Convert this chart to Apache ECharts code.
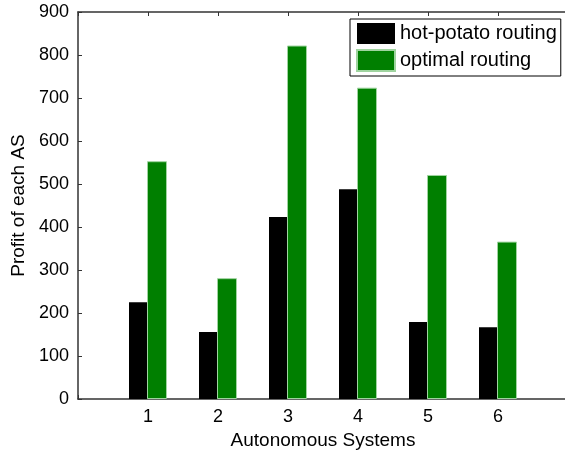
<!DOCTYPE html>
<html><head><meta charset="utf-8">
<script src="https://cdn.jsdelivr.net/npm/echarts@6/dist/echarts.min.js"></script>
<style>html,body{margin:0;padding:0;background:#fff}#c{width:565px;height:453px}</style>
</head><body><div id="c"></div>
<script>
const categories = [1, 2, 3, 4, 5, 6];
const hotPotato = [225, 156, 423, 488, 179, 167];
const optimal = [553, 281, 822, 724, 521, 366];
const yTicks = [0, 100, 200, 300, 400, 500, 600, 700, 800, 900];

const font = 'Liberation Sans, Arial, sans-serif';
const axisColor = '#333';
const chart = echarts.init(document.getElementById('c'));
chart.setOption({
  animation: false,
  backgroundColor: '#fff',
  textStyle: { fontFamily: font },
  grid: { left: 78, width: 490, top: 12, height: 387, containLabel: false, outerBoundsMode: 'none' },
  legend: {
    orient: 'vertical', left: 350, top: 19,
    itemWidth: 38, itemHeight: 21, itemGap: 5,
    padding: [4, 4, 4, 6],
    borderColor: '#000', borderWidth: 1, backgroundColor: '#fff',
    icon: 'rect',
    textStyle: { fontSize: 20, color: '#000', fontFamily: font },
    data: ['hot-potato routing', 'optimal routing']
  },
  xAxis: [{
    type: 'value', min: 0, max: 7, interval: 1,
    name: 'Autonomous Systems', nameLocation: 'middle', nameGap: 31,
    nameTextStyle: { fontSize: 19, color: '#000', fontFamily: font },
    axisLine: { onZero: false, lineStyle: { color: axisColor, width: 1.5 } },
    axisTick: { inside: true, length: 4, lineStyle: { color: axisColor } },
    axisLabel: { fontSize: 18, color: '#000', margin: 9, fontFamily: font,
      formatter: v => categories.indexOf(v) >= 0 ? String(v) : '' },
    splitLine: { show: false }
  }, {
    type: 'value', position: 'top', min: 0, max: 7, interval: 1,
    axisLine: { show: true, onZero: false, lineStyle: { color: axisColor, width: 1.5 } },
    axisTick: { inside: true, length: 4, lineStyle: { color: axisColor } },
    axisLabel: { show: false }, splitLine: { show: false }
  }],
  yAxis: [{
    type: 'value', min: 0, max: 900, interval: 100,
    name: 'Profit of each AS', nameLocation: 'middle', nameGap: 50,
    nameTextStyle: { fontSize: 19, color: '#000', fontFamily: font },
    axisLine: { show: true, onZero: false, lineStyle: { color: axisColor, width: 1.5 } },
    axisTick: { show: true, inside: true, length: 4, lineStyle: { color: axisColor } },
    axisLabel: { fontSize: 18, color: '#000', margin: 9, fontFamily: font,
      formatter: v => yTicks.indexOf(v) >= 0 ? String(v) : '' },
    splitLine: { show: false }
  }, {
    type: 'value', position: 'right', min: 0, max: 900, interval: 100,
    axisLine: { show: false, onZero: false, lineStyle: { color: axisColor, width: 1.5 } },
    axisTick: { show: true, inside: true, length: 3, lineStyle: { color: axisColor } },
    axisLabel: { show: false }, splitLine: { show: false }
  }],
  series: [{
    name: 'hot-potato routing', type: 'bar', barWidth: 18, barGap: '0%',
    itemStyle: { color: '#000' },
    data: categories.map((c, i) => [c, hotPotato[i]])
  }, {
    name: 'optimal routing', type: 'bar', barWidth: 20, barGap: '0%',
    itemStyle: { color: '#007f00', borderColor: '#9fd49f', borderWidth: 1 },
    data: categories.map((c, i) => [c, optimal[i]])
  }]
});
</script></body></html>
